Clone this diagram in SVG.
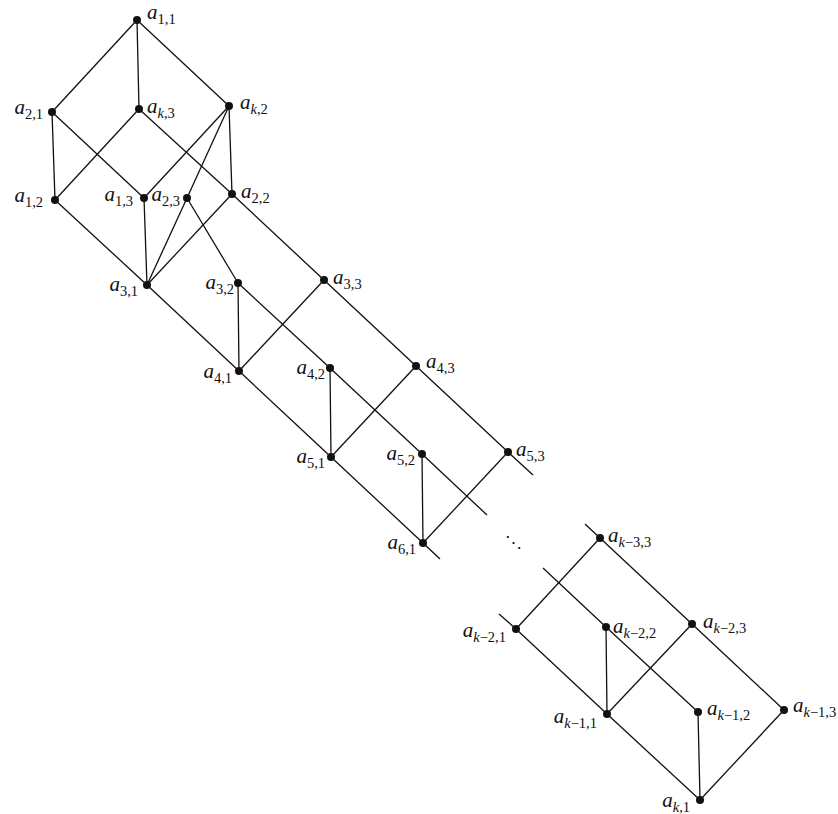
<svg xmlns="http://www.w3.org/2000/svg" width="838" height="814" viewBox="0 0 838 814">
<style>
.e line{stroke:#111;stroke-width:1.3;fill:none}
.n circle{fill:#111}
text{font-family:"Liberation Serif","Times New Roman",serif;fill:#111}
.v{font-style:italic;font-size:21px}
.s{font-size:14.5px}
.k{font-style:italic}
.l{text-anchor:end}
</style>
<rect width="838" height="814" fill="#fff"/>
<g id="connectors" class="e">
<line x1="137" y1="20" x2="52" y2="112"/>
<line x1="137" y1="20" x2="139" y2="109"/>
<line x1="137" y1="20" x2="229" y2="106"/>
<line x1="52" y1="112" x2="55" y2="200"/>
<line x1="52" y1="112" x2="144" y2="198"/>
<line x1="139" y1="109" x2="55" y2="200"/>
<line x1="139" y1="109" x2="232" y2="194"/>
<line x1="229" y1="106" x2="144" y2="198"/>
<line x1="229" y1="106" x2="187" y2="198"/>
<line x1="229" y1="106" x2="232" y2="194"/>
<line x1="55" y1="200" x2="147" y2="285"/>
<line x1="144" y1="198" x2="147" y2="285"/>
<line x1="187" y1="198" x2="147" y2="285"/>
<line x1="232" y1="194" x2="147" y2="285"/>
<line x1="232" y1="194" x2="324" y2="280"/>
<line x1="187" y1="198" x2="238" y2="283"/>
<line x1="147" y1="285" x2="239" y2="371"/>
<line x1="238" y1="283" x2="239" y2="371"/>
<line x1="238" y1="283" x2="330" y2="368"/>
<line x1="324" y1="280" x2="239" y2="371"/>
<line x1="324" y1="280" x2="416" y2="366"/>
<line x1="239" y1="371" x2="331" y2="457"/>
<line x1="330" y1="368" x2="331" y2="457"/>
<line x1="330" y1="368" x2="422" y2="454"/>
<line x1="416" y1="366" x2="331" y2="457"/>
<line x1="416" y1="366" x2="508" y2="452"/>
<line x1="331" y1="457" x2="423" y2="543"/>
<line x1="422" y1="454" x2="423" y2="543"/>
<line x1="508" y1="452" x2="423" y2="543"/>
<line x1="508" y1="452" x2="533" y2="475"/>
<line x1="422" y1="454" x2="487" y2="515"/>
<line x1="423" y1="543" x2="440" y2="559"/>
<line x1="585" y1="524" x2="600" y2="538"/>
<line x1="543" y1="568" x2="606" y2="627"/>
<line x1="499" y1="614" x2="516" y2="629"/>
<line x1="600" y1="538" x2="516" y2="629"/>
<line x1="600" y1="538" x2="692" y2="624"/>
<line x1="516" y1="629" x2="607" y2="714"/>
<line x1="606" y1="627" x2="607" y2="714"/>
<line x1="606" y1="627" x2="698" y2="712"/>
<line x1="692" y1="624" x2="607" y2="714"/>
<line x1="692" y1="624" x2="784" y2="710"/>
<line x1="607" y1="714" x2="700" y2="800"/>
<line x1="698" y1="712" x2="700" y2="800"/>
<line x1="784" y1="710" x2="700" y2="800"/>
</g>
<text x="505" y="548" style="font-family:'DejaVu Serif',serif;font-size:17px">⋱</text>
<g id="a11" class="n"><circle cx="137" cy="20" r="4"/><text x="147" y="19"><tspan class="v">a</tspan><tspan class="s" dy="5">1,1</tspan></text></g>
<g id="a21" class="n"><circle cx="52" cy="112" r="4"/><text class="l" x="43" y="114"><tspan class="v">a</tspan><tspan class="s" dy="5">2,1</tspan></text></g>
<g id="ak3" class="n"><circle cx="139" cy="109" r="4"/><text x="147" y="113"><tspan class="v">a</tspan><tspan class="s" dy="5"><tspan class="k">k</tspan>,3</tspan></text></g>
<g id="ak2" class="n"><circle cx="229" cy="106" r="4"/><text x="240" y="109"><tspan class="v">a</tspan><tspan class="s" dy="5"><tspan class="k">k</tspan>,2</tspan></text></g>
<g id="a12" class="n"><circle cx="55" cy="200" r="4"/><text class="l" x="43" y="202"><tspan class="v">a</tspan><tspan class="s" dy="5">1,2</tspan></text></g>
<g id="a13" class="n"><circle cx="144" cy="198" r="4"/><text class="l" x="133" y="201"><tspan class="v">a</tspan><tspan class="s" dy="5">1,3</tspan></text></g>
<g id="a23" class="n"><circle cx="187" cy="198" r="4"/><text class="l" x="180" y="201"><tspan class="v">a</tspan><tspan class="s" dy="5">2,3</tspan></text></g>
<g id="a22" class="n"><circle cx="232" cy="194" r="4"/><text x="241" y="198"><tspan class="v">a</tspan><tspan class="s" dy="5">2,2</tspan></text></g>
<g id="a31" class="n"><circle cx="147" cy="285" r="4"/><text class="l" x="138" y="291"><tspan class="v">a</tspan><tspan class="s" dy="5">3,1</tspan></text></g>
<g id="a32" class="n"><circle cx="238" cy="283" r="4"/><text class="l" x="234" y="289"><tspan class="v">a</tspan><tspan class="s" dy="5">3,2</tspan></text></g>
<g id="a33" class="n"><circle cx="324" cy="280" r="4"/><text x="333" y="284"><tspan class="v">a</tspan><tspan class="s" dy="5">3,3</tspan></text></g>
<g id="a41" class="n"><circle cx="239" cy="371" r="4"/><text class="l" x="232" y="378"><tspan class="v">a</tspan><tspan class="s" dy="5">4,1</tspan></text></g>
<g id="a42" class="n"><circle cx="330" cy="368" r="4"/><text class="l" x="325" y="374"><tspan class="v">a</tspan><tspan class="s" dy="5">4,2</tspan></text></g>
<g id="a43" class="n"><circle cx="416" cy="366" r="4"/><text x="426" y="368"><tspan class="v">a</tspan><tspan class="s" dy="5">4,3</tspan></text></g>
<g id="a51" class="n"><circle cx="331" cy="457" r="4"/><text class="l" x="325" y="463"><tspan class="v">a</tspan><tspan class="s" dy="5">5,1</tspan></text></g>
<g id="a52" class="n"><circle cx="422" cy="454" r="4"/><text class="l" x="415" y="460"><tspan class="v">a</tspan><tspan class="s" dy="5">5,2</tspan></text></g>
<g id="a53" class="n"><circle cx="508" cy="452" r="4"/><text x="516" y="456"><tspan class="v">a</tspan><tspan class="s" dy="5">5,3</tspan></text></g>
<g id="a61" class="n"><circle cx="423" cy="543" r="4"/><text class="l" x="416" y="549"><tspan class="v">a</tspan><tspan class="s" dy="5">6,1</tspan></text></g>
<g id="ak-3_3" class="n"><circle cx="600" cy="538" r="4"/><text x="608" y="542"><tspan class="v">a</tspan><tspan class="s" dy="5"><tspan class="k">k</tspan>−3,3</tspan></text></g>
<g id="ak-2_1" class="n"><circle cx="516" cy="629" r="4"/><text class="l" x="506" y="637"><tspan class="v">a</tspan><tspan class="s" dy="5"><tspan class="k">k</tspan>−2,1</tspan></text></g>
<g id="ak-2_2" class="n"><circle cx="606" cy="627" r="4"/><text x="613" y="633"><tspan class="v">a</tspan><tspan class="s" dy="5"><tspan class="k">k</tspan>−2,2</tspan></text></g>
<g id="ak-2_3" class="n"><circle cx="692" cy="624" r="4"/><text x="703" y="628"><tspan class="v">a</tspan><tspan class="s" dy="5"><tspan class="k">k</tspan>−2,3</tspan></text></g>
<g id="ak-1_1" class="n"><circle cx="607" cy="714" r="4"/><text class="l" x="597" y="723"><tspan class="v">a</tspan><tspan class="s" dy="5"><tspan class="k">k</tspan>−1,1</tspan></text></g>
<g id="ak-1_2" class="n"><circle cx="698" cy="712" r="4"/><text x="707" y="715"><tspan class="v">a</tspan><tspan class="s" dy="5"><tspan class="k">k</tspan>−1,2</tspan></text></g>
<g id="ak-1_3" class="n"><circle cx="784" cy="710" r="4"/><text x="793" y="712"><tspan class="v">a</tspan><tspan class="s" dy="5"><tspan class="k">k</tspan>−1,3</tspan></text></g>
<g id="ak1" class="n"><circle cx="700" cy="800" r="4"/><text class="l" x="690" y="807"><tspan class="v">a</tspan><tspan class="s" dy="5"><tspan class="k">k</tspan>,1</tspan></text></g>
</svg>
